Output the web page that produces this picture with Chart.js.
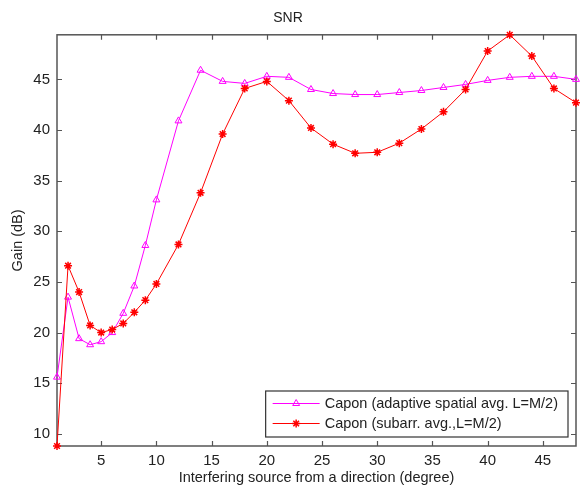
<!DOCTYPE html>
<html>
<head>
<meta charset="utf-8">
<script src="https://cdn.jsdelivr.net/npm/chart.js@4.4.1/dist/chart.umd.min.js"></script>
<style>
  html, body { margin: 0; padding: 0; background: #fff; }
  canvas { display: block; }
</style>
</head>
<body>
<canvas id="c" width="584" height="489"></canvas>
<script>
// Interfering source direction (degrees)
const angles = [1, 2, 3, 4, 5, 6, 7, 8, 9, 10,
  12, 14, 16, 18, 20, 22, 24, 26, 28, 30, 32, 34, 36, 38, 40, 42, 44, 46, 48];

// Output SNR gain (dB), adaptive spatial averaging
const gainAdaptive = [15.6, 23.5, 19.4, 18.8, 19.1, 20.0, 21.9, 24.6, 28.6, 33.1,
  40.9, 45.9, 44.8, 44.6, 45.3, 45.2, 44.0, 43.6, 43.5, 43.5, 43.7, 43.9, 44.2, 44.5, 44.9, 45.2, 45.3, 45.3, 45.0];

// Output SNR gain (dB), subarray averaging
const gainSubarray = [8.8, 26.6, 24.0, 20.7, 20.0, 20.3, 20.9, 22.0, 23.2, 24.8,
  28.7, 33.8, 39.6, 44.1, 44.8, 42.9, 40.2, 38.6, 37.7, 37.8, 38.7, 40.1, 41.8, 44.0, 47.8, 49.4, 47.3, 44.1, 42.7];

const xTickValues = [5, 10, 15, 20, 25, 30, 35, 40, 45];
const yTickValues = [10, 15, 20, 25, 30, 35, 40, 45];

const seriesLabels = ['Capon (adaptive spatial avg. L=M/2)', 'Capon (subarr. avg.,L=M/2)'];

const FONT = '"Liberation Sans", Arial, Helvetica, sans-serif';
const INK = '#222';
const AXIS = '#555';
const TICK_LEN = 5;

const toPoints = ys => angles.map((a, i) => ({ x: a, y: ys[i] }));
const allGains = gainAdaptive.concat(gainSubarray);

// Axes box with inward tick marks on all four sides
const framePlugin = {
  id: 'frame',
  beforeDatasetsDraw(chart) {
    const { ctx, chartArea: a } = chart;
    const xs = chart.scales.x, ys = chart.scales.y;
    ctx.save();
    ctx.strokeStyle = AXIS;
    ctx.lineWidth = 1.5;
    ctx.strokeRect(a.left, a.top, a.right - a.left, a.bottom - a.top);
    ctx.lineWidth = 1.2;
    ctx.beginPath();
    xs.ticks.forEach(t => {
      const px = Math.round(xs.getPixelForValue(t.value)) + 0.5;
      ctx.moveTo(px, a.bottom); ctx.lineTo(px, a.bottom - TICK_LEN);
      ctx.moveTo(px, a.top); ctx.lineTo(px, a.top + TICK_LEN);
    });
    ys.ticks.forEach(t => {
      const py = Math.round(ys.getPixelForValue(t.value)) + 0.5;
      ctx.moveTo(a.left, py); ctx.lineTo(a.left + TICK_LEN, py);
      ctx.moveTo(a.right, py); ctx.lineTo(a.right - TICK_LEN, py);
    });
    ctx.stroke();
    ctx.restore();
  }
};

// Boxed legend in the lower right corner of the plot area
const boxLegendPlugin = {
  id: 'boxLegend',
  afterDraw(chart) {
    const { ctx, chartArea: a } = chart;
    const sets = chart.data.datasets;
    ctx.save();
    ctx.font = '14.5px ' + FONT;
    const textW = Math.max(...sets.map(d => ctx.measureText(d.label).width));
    const w = 7 + 47 + 5 + textW + 10;
    const h = 46;
    const right = a.right - 8, bottom = a.bottom - 9;
    const left = right - w, top = bottom - h;
    ctx.fillStyle = '#fff';
    ctx.fillRect(left, top, w, h);
    ctx.strokeStyle = '#333';
    ctx.lineWidth = 1.2;
    ctx.strokeRect(left, top, w, h);
    sets.forEach((ds, i) => {
      const y = top + 12.5 + i * 20;
      ctx.strokeStyle = ds.borderColor;
      ctx.lineWidth = ds.borderWidth;
      ctx.beginPath();
      ctx.moveTo(left + 7, y);
      ctx.lineTo(left + 54, y);
      ctx.stroke();
      ctx.fillStyle = ds.pointBackgroundColor;
      ctx.lineWidth = ds.pointBorderWidth;
      Chart.helpers.drawPoint(ctx, {
        pointStyle: ds.pointStyle,
        radius: ds.pointRadius,
        rotation: 0,
        borderWidth: ds.pointBorderWidth
      }, left + 30.5, y);
      ctx.fillStyle = INK;
      ctx.textAlign = 'left';
      ctx.textBaseline = 'middle';
      ctx.fillText(ds.label, left + 59, y + 0.5);
    });
    ctx.restore();
  }
};

new Chart(document.getElementById('c'), {
  type: 'line',
  data: {
    datasets: [
      {
        label: seriesLabels[0],
        data: toPoints(gainAdaptive),
        borderColor: '#ff00ff',
        borderWidth: 1,
        pointStyle: 'triangle',
        pointRadius: 4,
        pointBorderWidth: 1,
        pointBorderColor: '#ff00ff',
        pointBackgroundColor: 'rgba(0,0,0,0)',
        tension: 0,
        clip: false,
        order: 1
      },
      {
        label: seriesLabels[1],
        data: toPoints(gainSubarray),
        borderColor: '#ff0000',
        borderWidth: 1,
        pointStyle: 'star',
        pointRadius: 4,
        pointBorderWidth: 1.5,
        pointBorderColor: '#ff0000',
        pointBackgroundColor: '#ff0000',
        tension: 0,
        clip: false,
        order: 0
      }
    ]
  },
  options: {
    responsive: false,
    animation: false,
    events: [],
    layout: { padding: { left: 0, right: 8, top: 0, bottom: 0 } },
    plugins: {
      legend: { display: false },
      tooltip: { enabled: false },
      title: {
        display: true,
        text: 'SNR',
        color: INK,
        font: { family: FONT, size: 14, weight: 'normal', lineHeight: 1.2 },
        padding: { top: 10, bottom: 8 }
      }
    },
    scales: {
      x: {
        type: 'linear',
        min: angles[0],
        max: angles[angles.length - 1],
        grid: { display: false, drawTicks: false },
        border: { display: false },
        afterBuildTicks: s => { s.ticks = xTickValues.map(v => ({ value: v })); },
        afterFit: s => { s.height = 43; },
        ticks: {
          color: INK,
          font: { family: FONT, size: 15 },
          padding: 6,
          maxRotation: 0,
          autoSkip: false
        },
        title: {
          display: true,
          text: 'Interfering source from a direction (degree)',
          color: INK,
          font: { family: FONT, size: 14.5, lineHeight: 1.2 },
          padding: { top: 0, bottom: 2 }
        }
      },
      y: {
        type: 'linear',
        min: Math.min(...allGains),
        max: Math.max(...allGains),
        grid: { display: false, drawTicks: false },
        border: { display: false },
        afterBuildTicks: s => { s.ticks = yTickValues.map(v => ({ value: v })); },
        afterFit: s => { s.width = 57; },
        ticks: {
          color: INK,
          font: { family: FONT, size: 15 },
          padding: 7,
          autoSkip: false
        },
        title: {
          display: true,
          text: 'Gain (dB)',
          color: INK,
          font: { family: FONT, size: 14.5, lineHeight: 1.2 },
          padding: { top: 9, bottom: 0 }
        }
      }
    }
  },
  plugins: [framePlugin, boxLegendPlugin]
});
</script>
</body>
</html>
